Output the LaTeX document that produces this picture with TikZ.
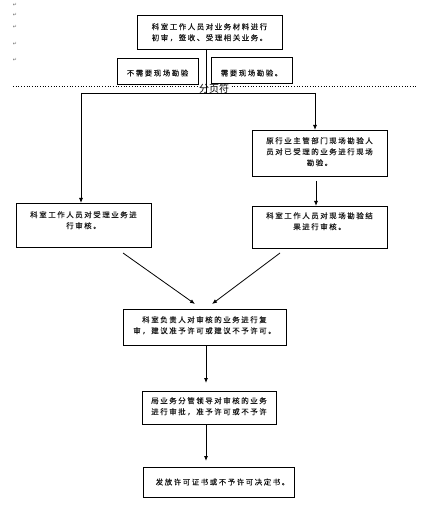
\documentclass[tikz,border=0pt]{standalone}
\usepackage{fontspec}
\usetikzlibrary{arrows.meta}
\newfontfamily\cjk{Noto Sans CJK SC}[LetterSpace=20, FakeBold=0.2]
\newfontfamily\cjkplain{Noto Sans CJK SC}
\newfontfamily\djv{DejaVu Sans}
\tikzset{
  box/.style={draw=black, line width=0.8pt, fill=white, inner sep=0pt, outer sep=0pt, anchor=north west},
  txt/.style={font=\cjk\fontsize{7.5pt}{11pt}\selectfont, text=black!90, align=center, inner sep=0pt},
  conn/.style={draw=black, line width=0.8pt},
  arr/.style={conn, -{Latex[length=5pt,width=4pt]}},
  pmark/.style={font=\djv\fontsize{5pt}{5pt}\selectfont, text=black!60, inner sep=0pt}
}
\begin{document}
\begin{tikzpicture}[x=1pt,y=-1pt]
\useasboundingbox (0,0) rectangle (431,518);
% paragraph marks at the left margin
\node[pmark] (pm1) at (15,5) {↵};
\node[pmark] (pm2) at (15,15) {↵};
\node[pmark] (pm3) at (15,27) {↵};
\node[pmark] (pm4) at (15,44) {↵};
\node[pmark] (pm5) at (15,60) {↵};
% page break
\coordinate (pbl) at (13,86);
\coordinate (pbr) at (416,86);
\draw[black, line width=0.7pt, dotted] (pbl) -- (pbr);
\node[font=\cjkplain\fontsize{10pt}{10pt}\selectfont, fill=white, inner sep=1pt] (pb) at (214,88.5) {分页符};
% junction coordinates
\coordinate (j) at (206,93);
\coordinate (jl) at (81,93);
\coordinate (jr) at (315,93);
% boxes
\node[box, minimum width=145, minimum height=34] (b1) at (137,15) {};
\draw[conn] (b1.south -| j) -- (j);
\draw[conn] (jl) -- (jr);
\node[box, minimum width=81, minimum height=26] (bno) at (117,58) {};
\node[box, minimum width=81, minimum height=26] (byes) at (211,57) {};
\node[box, minimum width=135, minimum height=46] (r1) at (252,130) {};
\node[box, minimum width=135, minimum height=42] (r2) at (252,206) {};
\node[box, minimum width=135, minimum height=44] (l1) at (16,203) {};
\node[box, minimum width=163, minimum height=36] (m) at (123,309) {};
\node[box, minimum width=134, minimum height=33] (b4) at (142,391) {};
\node[box, minimum width=151, minimum height=30] (b5) at (143,467) {};
% texts
\node[txt, anchor=north] (b1t) at ([yshift=-8]b1.north) {科室工作人员对业务材料进行\\初审，签收、受理相关业务。};
\node[txt] (bnot) at ([yshift=-2]bno.center) {不需要现场勘验};
\node[txt] (byest) at ([yshift=-3]byes.center) {需要现场勘验。};
\node[txt, anchor=north] (r1t) at ([yshift=-7]r1.north) {原行业主管部门现场勘验人\\员对已受理的业务进行现场\\勘验。};
\node[txt, anchor=north] (r2t) at ([yshift=-6]r2.north) {科室工作人员对现场勘验结\\果进行审核。};
\node[txt, anchor=north] (l1t) at ([yshift=-8]l1.north) {科室工作人员对受理业务进\\行审核。};
\node[txt, anchor=north] (mt) at ([yshift=-7]m.north) {科室负责人对审核的业务进行复\\审，建议准予许可或建议不予许可。};
\node[txt, anchor=north] (b4t) at ([yshift=-6]b4.north) {局业务分管领导对审核的业务\\进行审批，准予许可或不予许};
\node[txt] (b5t) at ([xshift=4]b5.center) {发放许可证书或不予许可决定书。};
% connectors
\draw[arr] (jl) -- (jl |- l1.north);
\draw[arr] (jr) -- (jr |- r1.north);
\coordinate (rx) at (316,0);
\draw[arr, shorten <=5pt] (rx |- r1.south) -- (rx |- r2.north);
\coordinate (d1s) at (123,253);
\coordinate (d1e) at (195,304);
\coordinate (d2s) at (280,253);
\coordinate (d2e) at (212,304);
\draw[arr] (d1s) -- (d1e);
\draw[arr] (d2s) -- (d2e);
\coordinate (cx) at (206,0);
\draw[arr, shorten >=8pt] (cx |- m.south) -- (cx |- b4.north);
\draw[arr, shorten >=6pt] (cx |- b4.south) -- (cx |- b5.north);
\end{tikzpicture}
\end{document}
